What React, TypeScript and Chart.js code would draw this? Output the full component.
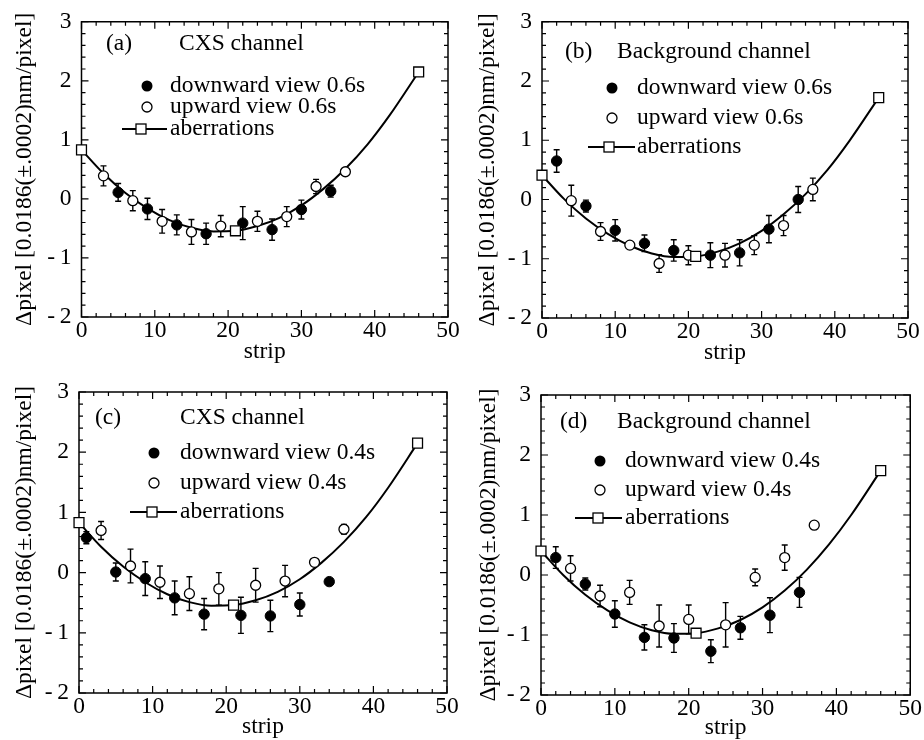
import React, { useEffect, useRef } from "react";
import { Chart, registerables } from "chart.js";
Chart.register(...registerables);

// ---------- data ----------
const xTicks = [0, 10, 20, 30, 40, 50];
const yTicks = [-2, -1, 0, 1, 2, 3];
const abX = [0, 21, 46];
const fitX = [0, 3, 6, 9, 12, 15, 18, 21, 24, 27, 30, 33, 36, 39, 42, 46];

// (a) CXS channel, 0.6s
const aDownX = [5, 9, 13, 17, 22, 26, 30, 34];
const aDownY = [0.11, -0.17, -0.44, -0.59, -0.41, -0.52, -0.18, 0.13];
const aDownErr = [0.15, 0.18, 0.17, 0.18, 0.28, 0.18, 0.16, 0.1];
const aUpX = [3, 7, 11, 15, 19, 24, 28, 32, 36];
const aUpY = [0.39, -0.03, -0.38, -0.56, -0.46, -0.38, -0.3, 0.21, 0.46];
const aUpErr = [0.17, 0.17, 0.2, 0.21, 0.18, 0.17, 0.17, 0.12, 0];
const aAbY = [0.83, -0.54, 2.15];
const aFitY = [0.83, 0.43, 0.1, -0.16, -0.36, -0.49, -0.55, -0.54, -0.46, -0.32, -0.11, 0.17, 0.51, 0.92, 1.41, 2.15];

// (b) Background channel, 0.6s
const bDownX = [2, 6, 10, 14, 18, 23, 27, 31, 35];
const bDownY = [0.65, -0.11, -0.52, -0.74, -0.86, -0.94, -0.9, -0.5, 0.0];
const bDownErr = [0.19, 0.1, 0.18, 0.14, 0.18, 0.21, 0.22, 0.23, 0.22];
const bUpX = [4, 8, 12, 16, 20, 25, 29, 33, 37];
const bUpY = [-0.02, -0.54, -0.77, -1.08, -0.94, -0.94, -0.77, -0.44, 0.17];
const bUpErr = [0.26, 0.15, 0.05, 0.15, 0.16, 0.2, 0.16, 0.17, 0.19];
const bAbY = [0.41, -0.96, 1.72];
const bFitY = [0.41, 0.01, -0.32, -0.58, -0.78, -0.91, -0.97, -0.96, -0.88, -0.74, -0.53, -0.25, 0.09, 0.5, 0.99, 1.72];

// (c) CXS channel, 0.4s
const cDownX = [1, 5, 9, 13, 17, 22, 26, 30, 34];
const cDownY = [0.58, 0.01, -0.1, -0.42, -0.69, -0.71, -0.72, -0.53, -0.15];
const cDownErr = [0.1, 0.15, 0.28, 0.28, 0.26, 0.3, 0.26, 0.19, 0];
const cUpX = [3, 7, 11, 15, 19, 24, 28, 32, 36];
const cUpY = [0.7, 0.11, -0.16, -0.35, -0.27, -0.21, -0.14, 0.17, 0.72];
const cUpErr = [0.15, 0.28, 0.27, 0.28, 0.27, 0.28, 0.26, 0, 0.08];
const cAbY = [0.83, -0.54, 2.15];
const cFitY = [0.83, 0.43, 0.1, -0.16, -0.36, -0.49, -0.55, -0.54, -0.46, -0.32, -0.11, 0.17, 0.51, 0.92, 1.41, 2.15];

// (d) Background channel, 0.4s
const dDownX = [2, 6, 10, 14, 18, 23, 27, 31, 35];
const dDownY = [0.29, -0.15, -0.65, -1.04, -1.05, -1.27, -0.88, -0.67, -0.29];
const dDownErr = [0.18, 0.1, 0.22, 0.21, 0.24, 0.19, 0.19, 0.29, 0.25];
const dUpX = [4, 8, 12, 16, 20, 25, 29, 33, 37];
const dUpY = [0.11, -0.35, -0.29, -0.85, -0.74, -0.83, -0.04, 0.29, 0.83];
const dUpErr = [0.21, 0.18, 0.2, 0.35, 0.24, 0.37, 0.14, 0.21, 0];
const dAbY = [0.4, -0.97, 1.74];
const dFitY = [0.4, 0.0, -0.33, -0.59, -0.79, -0.92, -0.98, -0.97, -0.89, -0.75, -0.54, -0.26, 0.09, 0.51, 1.0, 1.74];

const yTitle = "\u0394pixel [0.0186(\u00b1.0002)nm/pixel]";
const xTitle = "strip";
const FONT = "'Liberation Serif', 'Times New Roman', serif";
const FS = 23.5;

// ---------- layout (positions / sizes) ----------
const panels = [
  {
    tag: "(a)", title: "CXS channel",
    labels: ["downward view 0.6s", "upward view 0.6s", "aberrations"],
    down: [aDownX, aDownY, aDownErr], up: [aUpX, aUpY, aUpErr], ab: aAbY, fit: aFitY,
    canvas: { left: 0, top: 0, w: 470, h: 370 },
    area: { L: 81.5, R: 448, T: 19, B: 317 },
    yTitlePad: 13, xTitlePad: 6,
    leg: { tagX: 106, tagY: 44, titleX: 179, rows: [86, 107, 129], mX: 147, tX: 170, l0: 122, l1: 167, sX: 141 },
  },
  {
    tag: "(b)", title: "Background channel",
    labels: ["downward view 0.6s", "upward view 0.6s", "aberrations"],
    down: [bDownX, bDownY, bDownErr], up: [bUpX, bUpY, bUpErr], ab: bAbY, fit: bFitY,
    canvas: { left: 470, top: 0, w: 454, h: 370 },
    area: { L: 72, R: 438, T: 21, B: 318 },
    yTitlePad: 6, xTitlePad: 5,
    leg: { tagX: 95, tagY: 52, titleX: 147, rows: [88, 118, 147], mX: 142, tX: 167, l0: 118, l1: 165, sX: 139 },
  },
  {
    tag: "(c)", title: "CXS channel",
    labels: ["downward view 0.4s", "upward view 0.4s", "aberrations"],
    down: [cDownX, cDownY, cDownErr], up: [cUpX, cUpY, cUpErr], ab: cAbY, fit: cFitY,
    canvas: { left: 0, top: 370, w: 470, h: 370 },
    area: { L: 79, R: 447, T: 22, B: 323 },
    yTitlePad: 13, xTitlePad: 1,
    leg: { tagX: 95, tagY: 48, titleX: 180, rows: [83, 113, 142], mX: 154, tX: 180, l0: 130, l1: 177, sX: 152 },
  },
  {
    tag: "(d)", title: "Background channel",
    labels: ["downward view 0.4s", "upward view 0.4s", "aberrations"],
    down: [dDownX, dDownY, dDownErr], up: [dUpX, dUpY, dUpErr], ab: dAbY, fit: dFitY,
    canvas: { left: 470, top: 370, w: 454, h: 370 },
    area: { L: 71, R: 442, T: 25, B: 325 },
    yTitlePad: 7, xTitlePad: 0,
    leg: { tagX: 90, tagY: 52, titleX: 147, rows: [91, 120, 148], mX: 130, tX: 155, l0: 105, l1: 152, sX: 128 },
  },
];

const decor = {
  id: "decor",
  beforeDatasetsDraw(chart: any) {
    const { ctx, chartArea: a, scales } = chart;
    const xs = scales.x, ys = scales.y;
    ctx.save();
    ctx.strokeStyle = "#000";
    // ticks
    ctx.lineWidth = 1.2;
    ctx.beginPath();
    for (let v = 0; v <= 50; v += 2) {
      const px = xs.getPixelForValue(v);
      const len = v % 10 === 0 ? 7 : 4;
      ctx.moveTo(px, a.bottom); ctx.lineTo(px, a.bottom - len);
      ctx.moveTo(px, a.top); ctx.lineTo(px, a.top + len);
    }
    for (let i = -10; i <= 15; i++) {
      const v = i / 5;
      const py = ys.getPixelForValue(v);
      const len = i % 5 === 0 ? 7 : 4;
      ctx.moveTo(a.left, py); ctx.lineTo(a.left + len, py);
      ctx.moveTo(a.right, py); ctx.lineTo(a.right - len, py);
    }
    ctx.stroke();
    // frame
    ctx.lineWidth = 1.5;
    ctx.strokeRect(a.left, a.top, a.right - a.left, a.bottom - a.top);
    // error bars
    ctx.lineWidth = 1.4;
    chart.data.datasets.forEach((ds: any) => {
      if (!ds.errors) return;
      ds.data.forEach((p: any, i: number) => {
        const e = ds.errors[i];
        if (!e) return;
        const px = xs.getPixelForValue(p.x);
        const y0 = ys.getPixelForValue(p.y + e);
        const y1 = ys.getPixelForValue(p.y - e);
        ctx.beginPath();
        ctx.moveTo(px, y0); ctx.lineTo(px, y1);
        ctx.moveTo(px - 3, y0); ctx.lineTo(px + 3, y0);
        ctx.moveTo(px - 3, y1); ctx.lineTo(px + 3, y1);
        ctx.stroke();
      });
    });
    ctx.restore();
  },
  afterDraw(chart: any, _args: any, opts: any) {
    const { ctx } = chart;
    const g = opts.leg;
    ctx.save();
    ctx.fillStyle = "#000";
    ctx.strokeStyle = "#000";
    ctx.font = `${FS}px ${FONT}`;
    ctx.textBaseline = "middle";
    ctx.textAlign = "left";
    ctx.fillText(opts.tag, g.tagX, g.tagY);
    ctx.fillText(opts.title, g.titleX, g.tagY);
    // filled circle
    ctx.beginPath();
    ctx.arc(g.mX, g.rows[0], 5.5, 0, Math.PI * 2);
    ctx.fill();
    ctx.fillText(opts.labels[0], g.tX, g.rows[0]);
    // open circle
    ctx.lineWidth = 1.3;
    ctx.beginPath();
    ctx.arc(g.mX, g.rows[1], 5, 0, Math.PI * 2);
    ctx.fillStyle = "#fff";
    ctx.fill();
    ctx.stroke();
    ctx.fillStyle = "#000";
    ctx.fillText(opts.labels[1], g.tX, g.rows[1]);
    // line + square
    ctx.lineWidth = 2;
    ctx.beginPath();
    ctx.moveTo(g.l0, g.rows[2]); ctx.lineTo(g.l1, g.rows[2]);
    ctx.stroke();
    ctx.lineWidth = 1.3;
    ctx.fillStyle = "#fff";
    ctx.fillRect(g.sX - 5, g.rows[2] - 5, 10, 10);
    ctx.strokeRect(g.sX - 5, g.rows[2] - 5, 10, 10);
    ctx.fillStyle = "#000";
    ctx.fillText(opts.labels[2], g.tX, g.rows[2]);
    ctx.restore();
  },
};

function Panel({ p }: { p: any }) {
  const ref = useRef<HTMLCanvasElement | null>(null);
  useEffect(() => {
    if (!ref.current) return;
    const { w, h } = p.canvas;
    const { L, R, T, B } = p.area;
    const pts = (xs: number[], ys: number[]) => xs.map((x, i) => ({ x, y: ys[i] }));
    const chart = new Chart(ref.current, {
      type: "scatter",
      data: {
        datasets: [
          {
            label: p.labels[2],
            data: pts(abX, p.ab),
            pointStyle: "rect",
            pointRadius: 7,
            backgroundColor: "#fff",
            borderColor: "#000",
            borderWidth: 1.3,
            clip: false,
            order: 0,
          },
          {
            label: p.labels[0],
            data: pts(p.down[0], p.down[1]),
            errors: p.down[2],
            pointRadius: 5.2,
            backgroundColor: "#000",
            borderColor: "#000",
            borderWidth: 1,
            clip: false,
            order: 1,
          } as any,
          {
            label: p.labels[1],
            data: pts(p.up[0], p.up[1]),
            errors: p.up[2],
            pointRadius: 5,
            backgroundColor: "#fff",
            borderColor: "#000",
            borderWidth: 1.3,
            clip: false,
            order: 2,
          } as any,
          {
            label: "fit",
            data: pts(fitX, p.fit),
            showLine: true,
            pointRadius: 0,
            borderColor: "#000",
            borderWidth: 2,
            cubicInterpolationMode: "monotone",
            clip: false,
            order: 3,
          } as any,
        ],
      },
      options: {
        responsive: false,
        animation: false,
        devicePixelRatio: 1,
        events: [],
        layout: { padding: { left: 0, top: T, right: w - R, bottom: 0 } },
        plugins: {
          legend: { display: false },
          tooltip: { enabled: false },
          decor: { tag: p.tag, title: p.title, labels: p.labels, leg: p.leg },
        } as any,
        scales: {
          x: {
            type: "linear",
            min: 0,
            max: 50,
            grid: { display: false, drawTicks: false },
            border: { display: false },
            afterBuildTicks: (s: any) => { s.ticks = xTicks.map((v) => ({ value: v })); },
            ticks: { color: "#000", padding: 2, font: { family: FONT, size: FS, lineHeight: 1 }, maxRotation: 0, autoSkip: false },
            title: { display: true, text: xTitle, color: "#000", font: { family: FONT, size: FS, lineHeight: 1 }, padding: { top: 0, bottom: p.xTitlePad } },
            afterFit: (s: any) => { s.height = h - B; },
          },
          y: {
            type: "linear",
            min: -2,
            max: 3,
            grid: { display: false, drawTicks: false },
            border: { display: false },
            afterBuildTicks: (s: any) => { s.ticks = yTicks.map((v) => ({ value: v })); },
            ticks: {
              color: "#000",
              padding: 10,
              font: { family: FONT, size: FS, lineHeight: 1 },
              callback: (v: any) => (v < 0 ? "-\u2009" + -v : String(v)),
            },
            title: { display: true, text: yTitle, color: "#000", font: { family: FONT, size: FS, lineHeight: 1 }, padding: { top: p.yTitlePad, bottom: 0 } },
            afterFit: (s: any) => { s.width = L; },
          },
        },
      } as any,
      plugins: [decor as any],
    });
    return () => chart.destroy();
  }, [p]);
  return (
    <canvas
      ref={ref}
      width={p.canvas.w}
      height={p.canvas.h}
      style={{ position: "absolute", left: p.canvas.left, top: p.canvas.top, width: p.canvas.w, height: p.canvas.h }}
    />
  );
}

export default function App() {
  return (
    <div style={{ position: "absolute", left: 0, top: 0, width: 924, height: 740, background: "#fff", overflow: "hidden" }}>
      {panels.map((p, i) => (
        <Panel key={i} p={p} />
      ))}
    </div>
  );
}
